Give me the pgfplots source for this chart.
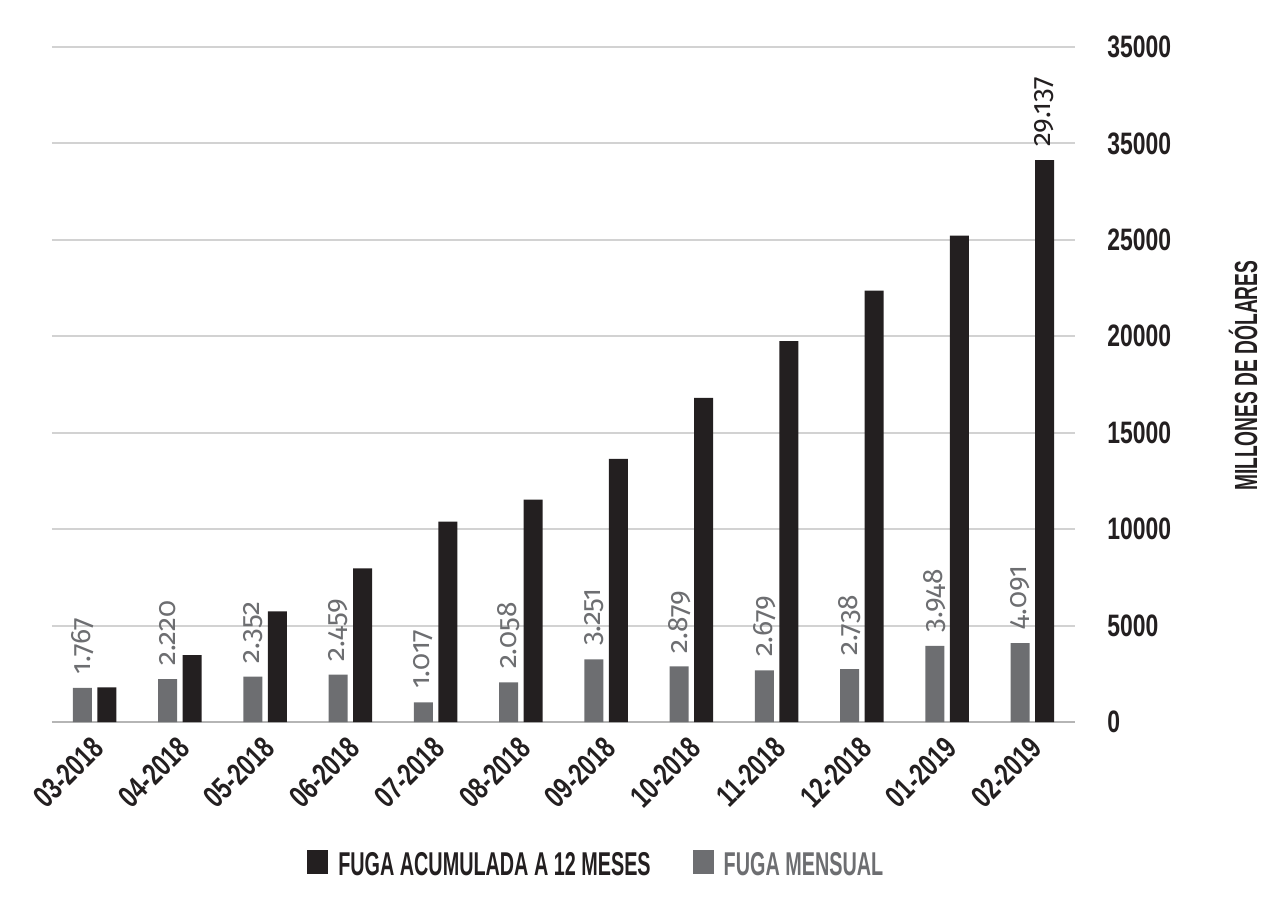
\documentclass[border=0pt]{standalone}
\usepackage{fontspec}
\usepackage{graphicx}
\usepackage{pgfplots}
\usepackage{pgfplotstable}
\pgfplotsset{compat=1.18}
\newfontfamily\libsans{Liberation Sans}
\newfontfamily\lblfont[Numbers=OldStyle]{Fira Sans}
\newcommand\cD[1]{\scalebox{0.74}[1]{#1}}
\newcommand\cL[1]{\scalebox{0.6}[1]{#1}}
\definecolor{blk}{HTML}{231F20}
\definecolor{mgrey}{HTML}{6D6E71}
\definecolor{gridc}{HTML}{D2D2D2}
\definecolor{axc}{HTML}{B5B5B5}

\pgfplotstableread{
x y lab
0 1767 1.767
1 2220 2.220
2 2352 2.352
3 2459 2.459
4 1017 1.017
5 2058 2.058
6 3251 3.251
7 2879 2.879
8 2679 2.679
9 2738 2.738
10 3948 3.948
11 4091 4.091
}\mensual

\pgfplotstableread{
x y lab
0 1800 {}
1 3474 {}
2 5740 {}
3 7970 {}
4 10396 {}
5 11537 {}
6 13647 {}
7 16810 {}
8 19745 {}
9 22370 {}
10 25220 {}
11 29137 29.137
}\acum

\begin{document}
\begin{tikzpicture}
\begin{axis}[
  scale only axis, width=511.5pt, height=337.5pt,
  xmin=-0.5, xmax=11.5, ymin=0, ymax=35000,
  clip=false,
  axis x line*=bottom, axis y line*=right,
  y axis line style={draw=none},
  x axis line style={draw=axc, line width=1pt},
  major tick length=0pt, tick style={draw=none},
  xtick={0,...,11},
  xticklabels={\cD{03-2018},\cD{04-2018},\cD{05-2018},\cD{06-2018},\cD{07-2018},\cD{08-2018},\cD{09-2018},\cD{10-2018},\cD{11-2018},\cD{12-2018},\cD{01-2019},\cD{02-2019}},
  xticklabel style={font=\libsans\bfseries\fontsize{15.5}{18}\selectfont, text=blk, rotate=45, anchor=east, inner sep=0pt, xshift=-5.7pt, yshift=-8.6pt},
  ytick={0,5000,10000,15000,20000,25000,30000,35000},
  yticklabels={\cD{0},\cD{5000},\cD{10000},\cD{15000},\cD{20000},\cD{25000},\cD{35000},\cD{35000}},
  scaled y ticks=false,
  yticklabel style={font=\libsans\bfseries\fontsize{15.5}{18}\selectfont, text=blk, anchor=west, inner sep=0pt, xshift=16pt},
  ymajorgrids, grid style={draw=gridc, line width=1pt},
  ylabel={\cL{MILLONES DE DÓLARES}},
  every axis y label/.style={at={(axis description cs:1,0.513)}, xshift=84pt, rotate=90, anchor=center, font=\libsans\bfseries\fontsize{16}{18}\selectfont, text=blk},
  legend image code/.code={\fill[#1] (0pt,-4.5pt) rectangle (10.5pt,7.5pt);},
  legend style={at={(0.533,-0.212)}, anchor=center, draw=none, fill=none,
    legend columns=2, inner sep=0pt,
    font=\libsans\bfseries\fontsize{16.5}{18}\selectfont,
    /tikz/every odd column/.append style={column sep=3pt},
    /tikz/every even column/.append style={column sep=19pt}},
]
\addlegendimage{fill=blk, draw=none}
\addlegendentry{\textcolor{blk}{\cL{FUGA ACUMULADA A 12 MESES}}}
\addlegendimage{fill=mgrey, draw=none}
\addlegendentry{\textcolor{mgrey}{\cL{FUGA MENSUAL}}}

\addplot[forget plot, ybar, bar width=0.223, bar shift=0pt, fill=mgrey, draw=none,
  point meta=explicit symbolic, nodes near coords,
  every node near coord/.append style={rotate=90, anchor=west, inner xsep=6.5pt, inner ysep=0pt, text=mgrey, font=\lblfont\fontsize{14}{16}\selectfont}]
  table[x expr=\thisrow{x}-0.143, y=y, meta=lab] {\mensual};

\addplot[forget plot, ybar, bar width=0.223, bar shift=0pt, fill=blk, draw=none,
  point meta=explicit symbolic, nodes near coords,
  every node near coord/.append style={rotate=90, anchor=west, inner xsep=6.5pt, inner ysep=0pt, text=blk, font=\lblfont\fontsize{14}{16}\selectfont}]
  table[x expr=\thisrow{x}+0.143, y=y, meta=lab] {\acum};

\coordinate (SW) at (rel axis cs:0,0);
\end{axis}
\pgfresetboundingbox
\path ([shift={(-26pt,-92pt)}]SW) rectangle ([shift={(614pt,361pt)}]SW);
\end{tikzpicture}
\end{document}
